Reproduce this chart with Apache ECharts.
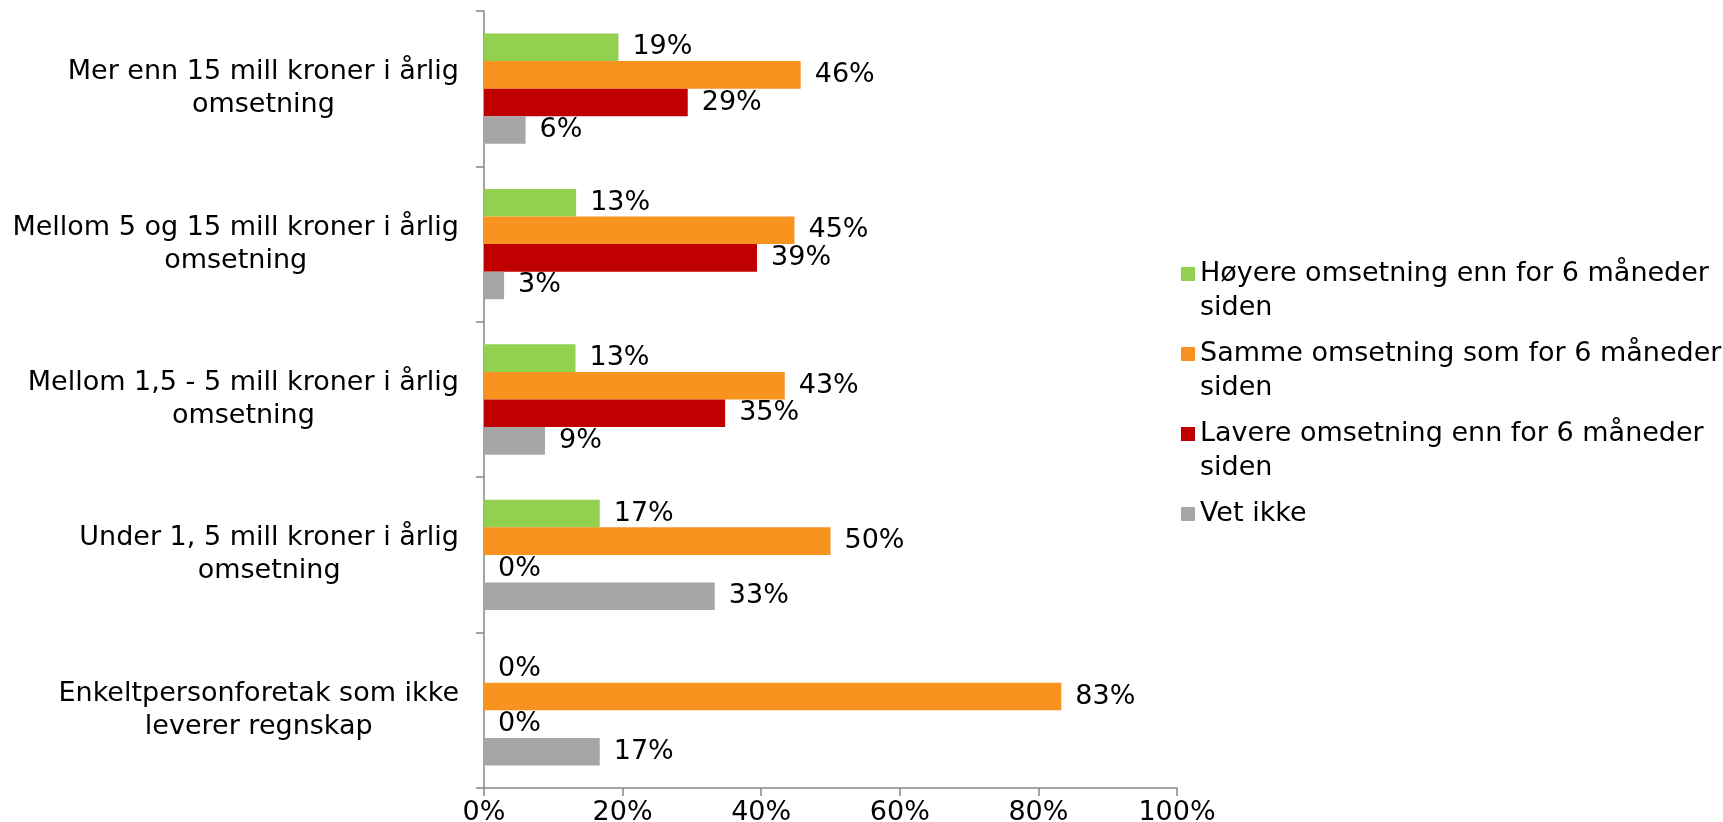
<!DOCTYPE html>
<html>
<head>
<meta charset="utf-8">
<script src="https://cdn.jsdelivr.net/npm/echarts@6/dist/echarts.min.js"></script>
<style>
  html, body { margin: 0; padding: 0; background: #fff; }
  #chart { width: 1723px; height: 822px; }
</style>
</head>
<body>
<div id="chart"></div>
<script>
// kategorier (topp til bunn)
const categories = [
  'Mer enn 15 mill kroner i årlig\nomsetning',
  'Mellom 5 og 15 mill kroner i årlig\nomsetning',
  'Mellom 1,5 - 5 mill kroner i årlig\nomsetning',
  'Under 1, 5 mill kroner i årlig\nomsetning',
  'Enkeltpersonforetak som ikke\nleverer regnskap'
];
const seriesNames = [
  'Høyere omsetning enn for 6 måneder\nsiden',
  'Samme omsetning som for 6 måneder\nsiden',
  'Lavere omsetning enn for 6 måneder\nsiden',
  'Vet ikke'
];
const hoyere = [19.4, 13.3, 13.2, 16.7, 0];
const samme = [45.7, 44.8, 43.4, 50.0, 83.3];
const lavere = [29.4, 39.4, 34.8, 0, 0];
const vetIkke = [6.0, 2.9, 8.8, 33.3, 16.7];
const xTicks = [0, 20, 40, 60, 80, 100];

const colors = ['#92D050', '#F7931E', '#C00000', '#A6A6A6'];
const font = 'DejaVu Sans';
const fs = 27;

const chart = echarts.init(document.getElementById('chart'));

function makeSeries(i, data) {
  return {
    name: seriesNames[i],
    type: 'bar',
    data: data,
    barGap: 0,
    barCategoryGap: '29%',
    itemStyle: { color: colors[i] },
    label: {
      show: true,
      position: 'right',
      distance: 14,
      color: '#000',
      fontFamily: font,
      fontSize: fs,
      formatter: p => Math.round(p.value) + '%'
    }
  };
}

chart.setOption({
  backgroundColor: '#fff',
  animation: false,
  grid: {
    left: 484,
    right: 546,
    top: 11,
    bottom: 34,
    outerBoundsMode: 'none'
  },
  legend: {
    orient: 'vertical',
    left: 1181,
    top: 223,
    padding: 0,
    itemGap: -22,
    itemWidth: 14,
    itemHeight: 14,
    icon: 'rect',
    data: seriesNames,
    // tom linje over (og under) så ikonet står ved første tekstlinje
    formatter: n => n.indexOf('\n') >= 0 ? '\n' + n : '\n' + n + '\n',
    textStyle: {
      fontFamily: font,
      fontSize: fs,
      lineHeight: 34,
      color: '#000'
    }
  },
  xAxis: {
    type: 'value',
    min: 0,
    max: 100,
    interval: 20,
    axisLine: { show: true, lineStyle: { color: '#868686', width: 1.5 } },
    axisTick: { show: true, length: 8, lineStyle: { color: '#868686', width: 1.5 } },
    splitLine: { show: false },
    axisLabel: {
      margin: 11,
      color: '#000',
      fontFamily: font,
      fontSize: fs,
      formatter: v => xTicks.indexOf(v) >= 0 ? v + '%' : ''
    }
  },
  yAxis: {
    type: 'category',
    inverse: true,
    data: categories,
    axisLine: { show: true, lineStyle: { color: '#868686', width: 1.5 } },
    axisTick: { show: true, length: 8, lineStyle: { color: '#868686', width: 1.5 } },
    axisLabel: {
      margin: 25,
      align: 'right',
      color: '#000',
      fontFamily: font,
      fontSize: fs,
      lineHeight: 33,
      formatter: v => v.split('\n').map(s => '{c|' + s + '}').join('\n'),
      rich: {
        c: { align: 'center', fontFamily: font, fontSize: fs, lineHeight: 33, color: '#000' }
      }
    }
  },
  series: [
    makeSeries(0, hoyere),
    makeSeries(1, samme),
    makeSeries(2, lavere),
    makeSeries(3, vetIkke)
  ]
});
</script>
</body>
</html>
